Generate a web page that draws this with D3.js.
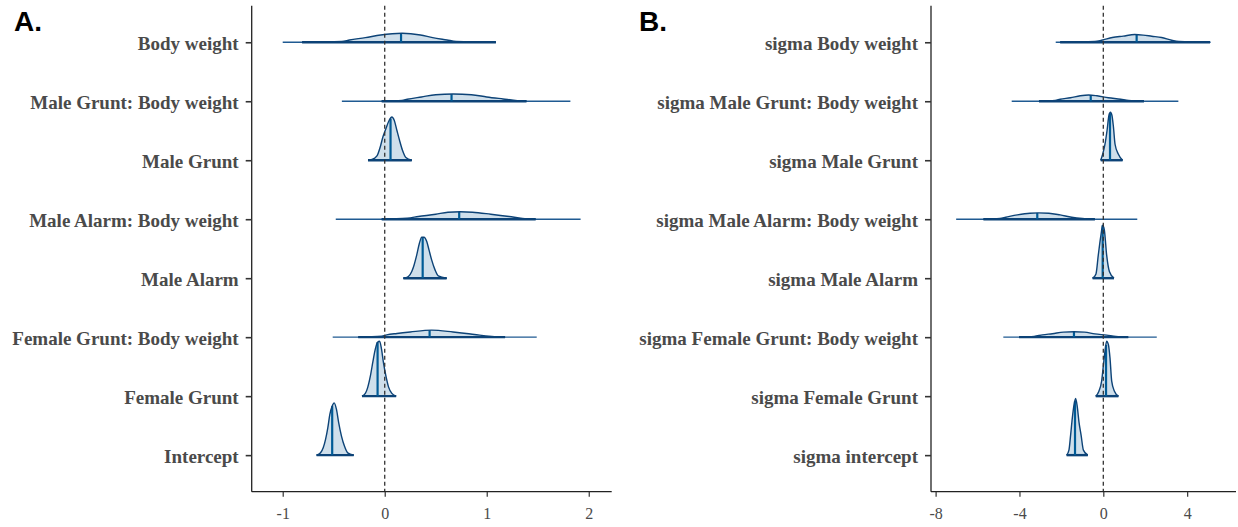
<!DOCTYPE html>
<html><head><meta charset="utf-8">
<script src="https://cdn.jsdelivr.net/npm/d3@7"></script>
<style>
html,body{margin:0;padding:0;background:#fff;}
svg{display:block;}
</style></head>
<body>
<svg id="chart" width="1238" height="527"></svg>
<script>
// ---------- DATA ----------
const labelsA = ["Body weight", "Male Grunt: Body weight", "Male Grunt", "Male Alarm: Body weight",
  "Male Alarm", "Female Grunt: Body weight", "Female Grunt", "Intercept"];
const medianA = [0.16, 0.655, 0.057, 0.73, 0.372, 0.44, -0.07, -0.515];
const outerLoA = [-1.0, -0.42, -0.164, -0.48, 0.183, -0.51, -0.223, -0.668];
const outerHiA = [1.09, 1.82, 0.265, 1.92, 0.607, 1.49, 0.112, -0.304];
const densXA = [
  [-0.81, -0.42, -0.345, -0.19, -0.04, 0.17, 0.35, 0.47, 0.61, 0.70, 1.09],
  [-0.03, 0.17, 0.22, 0.36, 0.50, 0.67, 0.85, 1.0, 1.16, 1.30, 1.39],
  [-0.164, -0.125, -0.076, -0.044, -0.018, 0.012, 0.044, 0.07, 0.093, 0.119, 0.145, 0.174, 0.207, 0.265],
  [-0.03, 0.22, 0.33, 0.50, 0.62, 0.74, 0.86, 1.04, 1.22, 1.35, 1.48],
  [0.183, 0.232, 0.265, 0.288, 0.314, 0.34, 0.363, 0.385, 0.412, 0.434, 0.460, 0.493, 0.525, 0.607],
  [-0.26, -0.03, 0.02, 0.12, 0.25, 0.46, 0.67, 0.80, 0.93, 1.05, 1.18],
  [-0.223, -0.19, -0.168, -0.141, -0.115, -0.093, -0.07, -0.05, -0.031, -0.012, 0.012, 0.037, 0.07, 0.112],
  [-0.668, -0.629, -0.603, -0.58, -0.558, -0.538, -0.515, -0.496, -0.473, -0.451, -0.424, -0.395, -0.363, -0.304]
];
const densYA = [
  [0, 0.014, 0.039, 0.078, 0.124, 0.153, 0.124, 0.078, 0.039, 0.014, 0],
  [0, 0.014, 0.034, 0.073, 0.110, 0.122, 0.110, 0.073, 0.039, 0.010, 0],
  [0, 0.012, 0.073, 0.225, 0.395, 0.537, 0.678, 0.734, 0.678, 0.508, 0.339, 0.169, 0.046, 0],
  [0, 0.017, 0.046, 0.085, 0.119, 0.127, 0.119, 0.085, 0.046, 0.014, 0],
  [0, 0.029, 0.114, 0.225, 0.395, 0.593, 0.695, 0.695, 0.622, 0.480, 0.310, 0.141, 0.039, 0],
  [0, 0.017, 0.039, 0.063, 0.088, 0.119, 0.088, 0.063, 0.034, 0.014, 0],
  [0, 0.046, 0.141, 0.339, 0.593, 0.792, 0.915, 0.932, 0.792, 0.564, 0.339, 0.158, 0.046, 0],
  [0, 0.039, 0.124, 0.266, 0.463, 0.690, 0.831, 0.886, 0.775, 0.547, 0.322, 0.153, 0.039, 0]
];
const ticksA = [-1, 0, 1, 2];
const domainA = [-1.304, 2.225];

const labelsB = ["sigma Body weight", "sigma Male Grunt: Body weight", "sigma Male Grunt",
  "sigma Male Alarm: Body weight", "sigma Male Alarm", "sigma Female Grunt: Body weight",
  "sigma Female Grunt", "sigma intercept"];
const medianB = [1.59, -0.60, 0.32, -3.15, -0.03, -1.40, 0.13, -1.35];
const outerLoB = [-2.27, -4.37, -0.124, -7.02, -0.51, -4.77, -0.36, -1.75];
const outerHiB = [5.12, 3.58, 0.92, 1.62, 0.51, 2.55, 0.72, -0.74];
const densXB = [
  [-2.06, -0.40, -0.08, 0.43, 0.95, 1.5, 1.9, 2.31, 2.78, 3.26, 3.6, 5.09],
  [-3.07, -2.30, -2.06, -1.57, -1.1, -0.70, -0.3, 0.24, 0.83, 1.2, 1.94],
  [-0.124, -0.03, 0.08, 0.18, 0.27, 0.34, 0.41, 0.48, 0.56, 0.72, 0.92],
  [-5.72, -4.93, -4.65, -4.10, -3.5, -3.1, -2.6, -2.06, -1.51, -1.0, -0.40],
  [-0.51, -0.35, -0.24, -0.12, -0.03, 0.05, 0.16, 0.29, 0.51],
  [-4.02, -3.3, -2.9, -2.43, -1.9, -1.40, -0.9, -0.4, 0.16, 0.6, 1.19],
  [-0.36, -0.21, -0.08, 0, 0.08, 0.16, 0.24, 0.32, 0.40, 0.53, 0.72],
  [-1.75, -1.64, -1.56, -1.48, -1.40, -1.32, -1.24, -1.16, -1.06, -0.95, -0.74]
];
const densYB = [
  [0, 0.014, 0.034, 0.080, 0.105, 0.131, 0.122, 0.102, 0.080, 0.034, 0.014, 0],
  [0, 0.014, 0.034, 0.059, 0.093, 0.107, 0.093, 0.059, 0.034, 0.012, 0],
  [0, 0.102, 0.271, 0.508, 0.763, 0.814, 0.763, 0.576, 0.271, 0.102, 0],
  [0, 0.014, 0.034, 0.073, 0.102, 0.107, 0.102, 0.073, 0.034, 0.012, 0],
  [0, 0.073, 0.390, 0.712, 0.898, 0.814, 0.390, 0.114, 0],
  [0, 0.014, 0.039, 0.059, 0.085, 0.093, 0.085, 0.056, 0.034, 0.012, 0],
  [0, 0.085, 0.254, 0.508, 0.763, 0.932, 0.876, 0.644, 0.254, 0.085, 0],
  [0, 0.085, 0.339, 0.622, 0.847, 0.961, 0.814, 0.559, 0.339, 0.085, 0]
];
const ticksB = [-8, -4, 0, 4];
const domainB = [-8.22, 6.33];

const panelTitles = ["A.", "B."];

// ---------- STYLE ----------
const COL_DARK = "#0d4377";
const COL_THIN = "#1f5a92";
const COL_MED = "#005b96";
const COL_FILL = "#cfdfeb";
const TEXT_COL = "#4a4a4a";

const svg = d3.select("#chart");

function drawPanel(cfg) {
  const g = svg.append("g");
  const x = d3.scaleLinear().domain(cfg.domain).range([cfg.left, cfg.right]);
  const y = d3.scalePoint().domain(cfg.labels).range([cfg.top, cfg.bottom]).padding(0.62);
  const h = d3.scaleLinear().domain([0, 1]).range([0, y.step()]);

  const area = d3.area().curve(d3.curveMonotoneX);
  const line = d3.line().curve(d3.curveMonotoneX);

  cfg.labels.forEach((lab, i) => {
    const base = y(lab);
    const pts = cfg.dx[i].map((v, j) => [v, cfg.dy[i][j]]);
    const rg = g.append("g");
    // filled density
    rg.append("path")
      .attr("d", area.x(d => x(d[0])).y0(base).y1(d => base - h(d[1]))(pts))
      .attr("fill", COL_FILL).attr("stroke", "none");
    // thin outer baseline
    rg.append("line")
      .attr("x1", x(cfg.lo[i])).attr("x2", x(cfg.hi[i]))
      .attr("y1", base).attr("y2", base)
      .attr("stroke", COL_THIN).attr("stroke-width", 1.4);
    // thicker baseline under density range
    rg.append("line")
      .attr("x1", x(cfg.dx[i][0])).attr("x2", x(cfg.dx[i][cfg.dx[i].length - 1]))
      .attr("y1", base).attr("y2", base)
      .attr("stroke", COL_DARK).attr("stroke-width", 2.4);
    // median
    const med = cfg.med[i];
    const interp = d3.scaleLinear().domain(cfg.dx[i]).range(cfg.dy[i]);
    rg.append("line")
      .attr("x1", x(med)).attr("x2", x(med))
      .attr("y1", base).attr("y2", base - h(interp(med)))
      .attr("stroke", COL_MED).attr("stroke-width", 2.2);
    // outline
    rg.append("path")
      .attr("d", line.x(d => x(d[0])).y(d => base - h(d[1]))(pts))
      .attr("fill", "none").attr("stroke", COL_DARK).attr("stroke-width", 1.4);
  });

  // zero line
  g.append("line")
    .attr("x1", x(0)).attr("x2", x(0)).attr("y1", cfg.top).attr("y2", cfg.bottom)
    .attr("stroke", "#333").attr("stroke-width", 1.3).attr("stroke-dasharray", "4,3");

  // axes
  const ax = g.append("g").attr("transform", `translate(0,${cfg.bottom})`)
    .call(d3.axisBottom(x).tickValues(cfg.ticks).tickSize(5).tickSizeOuter(0).tickFormat(d => String(d)));
  ax.select(".domain").attr("stroke", "#222").attr("stroke-width", 1.3)
    .attr("d", `M${cfg.left},0H${cfg.right}`);
  ax.selectAll(".tick line").attr("stroke", "#333").attr("stroke-width", 1.2);
  ax.selectAll(".tick text").attr("fill", TEXT_COL)
    .style("font-family", "'Liberation Serif', 'Times New Roman', serif")
    .style("font-size", "16px").attr("dy", null).attr("y", 27);

  const ay = g.append("g").attr("transform", `translate(${cfg.left},0)`)
    .call(d3.axisLeft(y).tickSize(6).tickSizeOuter(0).tickPadding(7));
  ay.select(".domain").attr("stroke", "#222").attr("stroke-width", 1.3)
    .attr("d", `M0,${cfg.top}V${cfg.bottom}`);
  ay.selectAll(".tick line").attr("stroke", "#333").attr("stroke-width", 1.6);
  ay.selectAll(".tick text").attr("fill", TEXT_COL)
    .style("font-family", "'Liberation Serif', 'Times New Roman', serif")
    .style("font-weight", "bold").style("font-size", "19px").attr("dy", "0.4em");

  g.append("text").attr("x", cfg.titleX).attr("y", 31).text(cfg.title)
    .style("font-family", "'Liberation Sans', Arial, sans-serif")
    .style("font-weight", "bold").style("font-size", "28px").attr("fill", "#000");
}

drawPanel({
  labels: labelsA, med: medianA, lo: outerLoA, hi: outerHiA, dx: densXA, dy: densYA,
  ticks: ticksA, domain: domainA, left: 251.7, right: 611.7, top: 5.7, bottom: 491.7,
  title: panelTitles[0], titleX: 14
});
drawPanel({
  labels: labelsB, med: medianB, lo: outerLoB, hi: outerHiB, dx: densXB, dy: densYB,
  ticks: ticksB, domain: domainB, left: 931, right: 1236, top: 5.7, bottom: 491.7,
  title: panelTitles[1], titleX: 639
});
</script>
</body></html>
